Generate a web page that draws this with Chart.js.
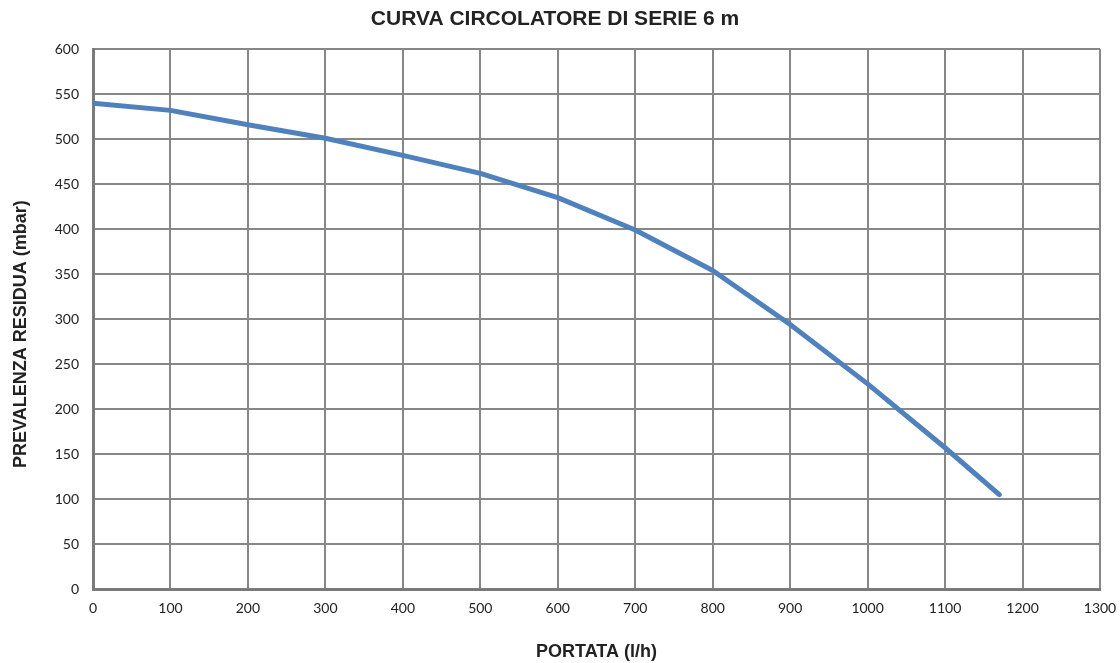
<!DOCTYPE html>
<html>
<head>
<meta charset="utf-8">
<script src="https://cdn.jsdelivr.net/npm/chart.js@4"></script>
<style>
  html, body { margin: 0; padding: 0; background: #fff; }
  #wrap { width: 1120px; height: 663px; }
</style>
</head>
<body>
<div id="wrap"><canvas id="curveChart" width="1120" height="663"></canvas></div>
<script>
// Curva circolatore
const portata = [0, 100, 200, 300, 400, 500, 600, 700, 800, 900, 1000, 1100, 1170];
const prevalenza = [540, 532, 516, 501, 482, 462, 435, 399, 354, 294, 228, 157, 105];

const xMin = 0, xMax = 1300, xStep = 100;
const yMin = 0, yMax = 600, yStep = 50;

const points = portata.map((x, i) => ({ x: x, y: prevalenza[i] }));

const gridColor = '#878787';
const tickFont = { family: 'Lato, "Open Sans", sans-serif', size: 14 };
const boldFont = { family: '"Liberation Sans", Arial, sans-serif', size: 18, weight: 'bold' };

const ctx = document.getElementById('curveChart');

const curveChart = new Chart(ctx, {
  type: 'line',
  data: {
    datasets: [{
      label: 'Prevalenza residua',
      data: points,
      borderColor: '#4f81bd',
      borderWidth: 5,
      borderCapStyle: 'round',
      borderJoinStyle: 'round',
      pointRadius: 0,
      fill: false,
      tension: 0
    }]
  },
  options: {
    responsive: false,
    animation: false,
    layout: { padding: { top: 0, right: 20, left: 10, bottom: 0 } },
    plugins: {
      legend: { display: false },
      tooltip: { enabled: false },
      title: {
        display: true,
        text: 'CURVA CIRCOLATORE DI SERIE 6 m',
        color: '#222',
        font: { family: '"Liberation Sans", Arial, sans-serif', size: 21, weight: 'bold' },
        padding: { top: 7, bottom: 17 }
      }
    },
    scales: {
      x: {
        type: 'linear',
        min: xMin,
        max: xMax,
        ticks: {
          stepSize: xStep,
          color: '#222',
          font: tickFont,
          padding: 11,
          maxRotation: 0,
          callback: v => String(v)
        },
        grid: { color: gridColor, lineWidth: 2, drawTicks: false },
        border: { color: '#7a7a7a', width: 3 },
        title: {
          display: true,
          text: 'PORTATA (l/h)',
          color: '#222',
          font: boldFont,
          padding: { top: 1, bottom: 0 }
        },
        afterFit: s => { s.height = 74; s.paddingLeft = 0; s.paddingRight = 0; }
      },
      y: {
        type: 'linear',
        min: yMin,
        max: yMax,
        ticks: {
          stepSize: yStep,
          color: '#222',
          font: tickFont,
          padding: 14,
          callback: v => String(v)
        },
        grid: { color: gridColor, lineWidth: 2, drawTicks: false },
        border: { color: '#7a7a7a', width: 3 },
        title: {
          display: true,
          // trailing spaces nudge the rotated title a little lower, as in the original
          text: 'PREVALENZA RESIDUA (mbar)      ',
          color: '#222',
          font: boldFont,
          padding: { top: 0, bottom: 0 }
        },
        afterFit: s => { s.width = 83; s.paddingTop = 0; s.paddingBottom = 0; }
      }
    }
  }
});
</script>
</body>
</html>
